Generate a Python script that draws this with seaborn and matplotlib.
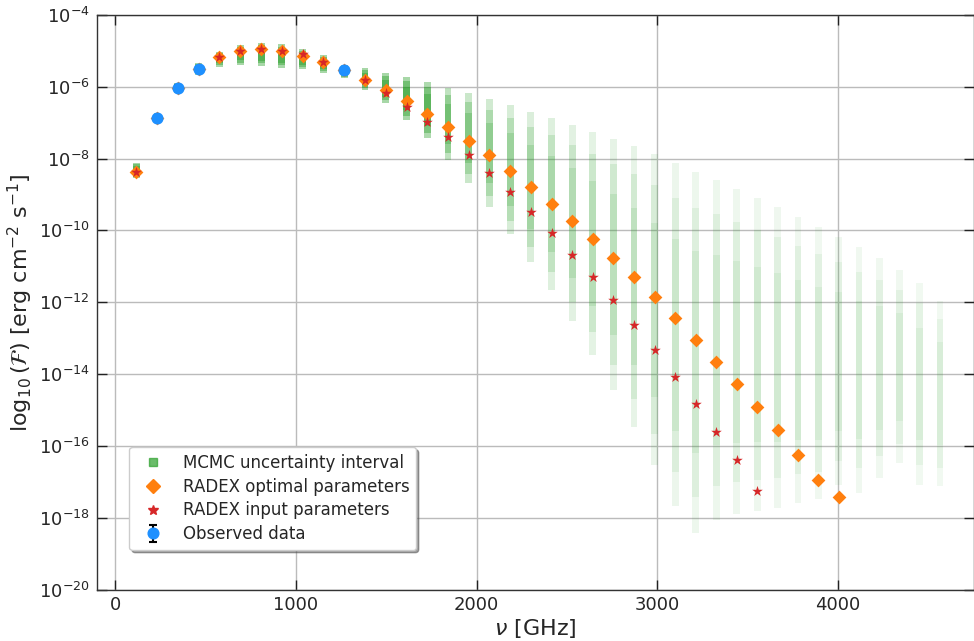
import numpy as np
import matplotlib
matplotlib.use("Agg")
import matplotlib.pyplot as plt
import seaborn as sns
from matplotlib.lines import Line2D
from matplotlib.ticker import NullLocator

# ---------------- data ----------------
# CO rotational transitions J=1..40, rest frequency in GHz
freq_ghz = [115.271, 230.538, 345.796, 461.041, 576.268, 691.473, 806.652, 921.800,
            1036.912, 1151.985, 1267.014, 1381.995, 1496.923, 1611.794, 1726.603,
            1841.346, 1956.018, 2070.616, 2185.135, 2299.570, 2413.917, 2528.172,
            2642.330, 2756.388, 2870.339, 2984.181, 3097.909, 3211.519, 3325.005,
            3438.365, 3551.594, 3664.687, 3777.640, 3890.449, 4003.110, 4115.619,
            4227.971, 4340.161, 4452.186, 4564.042]

# MCMC uncertainty interval, log10 flux (upper / lower end of each column)
mcmc_log_hi = [-8.12, -6.72, -5.89, -5.33, -5.02, -4.83, -4.77, -4.82, -4.95, -5.11,
               -5.39, -5.48, -5.61, -5.73, -5.86, -6.04, -6.18, -6.34, -6.50, -6.69,
               -6.86, -7.06, -7.25, -7.46, -7.66, -7.88, -8.13, -8.36, -8.59, -8.85,
               -9.11, -9.35, -9.63, -9.91, -10.19, -10.46, -10.77, -11.11, -11.47, -11.96]
mcmc_log_lo = [-8.54, -6.98, -6.17, -5.67, -5.44, -5.39, -5.41, -5.47, -5.51, -5.61,
               -5.76, -6.09, -6.46, -6.92, -7.43, -8.03, -8.67, -9.35, -10.10, -10.88,
               -11.65, -12.53, -13.46, -14.45, -15.47, -16.54, -17.68, -18.42, -18.05, -17.91,
               -17.82, -17.73, -17.59, -17.49, -17.10, -17.31, -16.89, -16.49, -17.08, -17.12]

# RADEX optimal parameters (J=1..35), log10 flux
radex_opt_log = [-8.36, -6.86, -6.02, -5.50, -5.16, -5.00, -4.955, -5.00, -5.13, -5.31,
                 -5.54, -5.81, -6.09, -6.39, -6.75, -7.12, -7.51, -7.91, -8.34, -8.79,
                 -9.25, -9.73, -10.24, -10.76, -11.30, -11.86, -12.44, -13.05, -13.65, -14.28,
                 -14.93, -15.57, -16.26, -16.96, -17.41]

# RADEX input parameters (J=1..31), log10 flux
radex_input_log = [-8.36, -6.86, -6.02, -5.50, -5.16, -5.00, -4.96, -5.00, -5.08, -5.30,
                   -5.54, -5.82, -6.18, -6.55, -6.98, -7.41, -7.90, -8.40, -8.93, -9.49,
                   -10.07, -10.68, -11.30, -11.95, -12.63, -13.34, -14.08, -14.83, -15.61, -16.39,
                   -17.27]

# Observed data
obs_freq_ghz = [230.538, 345.796, 461.041, 1267.014]
obs_flux = [1.38e-7, 9.55e-7, 3.16e-6, 2.88e-6]
obs_err = [2.0e-8, 1.4e-7, 4.7e-7, 4.3e-7]

x_ticks = [0, 1000, 2000, 3000, 4000]
y_tick_exponents = [-20, -18, -16, -14, -12, -10, -8, -6, -4]

# ---------------- style ----------------
sns.set_theme(style="whitegrid")
plt.rcParams['font.family'] = ['DejaVu Sans']
plt.rcParams['mathtext.fontset'] = 'dejavusans'

GREEN = '#2ca02c'
ORANGE = '#ff7f0e'
RED = '#d62728'
BLUE = '#1e90ff'

fig = plt.figure(figsize=(9.74, 6.41), dpi=100)
ax = fig.add_axes([0.0993, 0.0803, 0.9007, 0.8963])
ax.set_facecolor('white')
ax.set_yscale('log')

# MCMC uncertainty columns: nested translucent bars -> denser toward the centre
f_arr = np.array(freq_ghz)
lo_l = np.array(mcmc_log_lo)
hi_l = np.array(mcmc_log_hi)
span = hi_l - lo_l
centre_alpha = np.clip(1.0 / span ** 0.6, 0.1, 0.8) * np.interp(f_arr, [2900, 4600], [1.0, 0.45])
layer_alpha = 1 - (1 - centre_alpha) ** (1 / 3)
for f, l, h, s, b in zip(f_arr, lo_l, hi_l, span, layer_alpha):
    for frac in (0.0, 0.1, 0.22):
        il, ih = l + frac * s, h - frac * s
        ax.bar(f, 10 ** ih - 10 ** il, bottom=10 ** il, width=38, color=GREEN,
               alpha=b, linewidth=0, zorder=2)

# RADEX optimal
sns.scatterplot(x=freq_ghz[:len(radex_opt_log)], y=10 ** np.array(radex_opt_log),
                marker='D', s=49, color=ORANGE, linewidth=0, ax=ax, zorder=3)
# RADEX input
sns.scatterplot(x=freq_ghz[:len(radex_input_log)], y=10 ** np.array(radex_input_log),
                marker='*', s=64, color=RED, linewidth=0, ax=ax, zorder=4)
# Observed
obs = ax.errorbar(obs_freq_ghz, obs_flux, yerr=obs_err, fmt='o', ms=7.7, color=BLUE,
                  ecolor='black', elinewidth=1.5, capsize=3, capthick=1.5, zorder=5)

# axes
ax.set_xlim(-103, 4752)
ax.set_ylim(1e-20, 1e-4)
ax.set_xticks(x_ticks)
ax.set_yticks([10.0 ** k for k in y_tick_exponents])
ax.yaxis.set_minor_locator(NullLocator())
ax.grid(True, color='#bbbbbb', linewidth=1)
ax.set_axisbelow(True)
for sp in ax.spines.values():
    sp.set_color('#333333')
    sp.set_linewidth(1)
ax.tick_params(axis='both', which='major', direction='in', length=7, width=1,
               color='#222222', labelsize=13, top=True, right=True, bottom=True, left=True,
               pad=5)

ax.set_xlabel(r'$\nu$ [GHz]', fontsize=16, labelpad=2)
ax.set_ylabel(r'$\log_{10}(\mathcal{F})$ [erg cm$^{-2}$ s$^{-1}$]', fontsize=16, labelpad=3)

handles = [
    Line2D([], [], marker='s', ls='none', color=GREEN, alpha=0.7, markersize=6),
    Line2D([], [], marker='D', ls='none', color=ORANGE, markersize=7),
    Line2D([], [], marker='*', ls='none', color=RED, markersize=7),
    obs,
]
labels = ['MCMC uncertainty interval', 'RADEX optimal parameters',
          'RADEX input parameters', 'Observed data']
leg = ax.legend(handles, labels, loc='lower left', bbox_to_anchor=(0.037, 0.069),
                borderaxespad=0, fontsize=12, frameon=True, shadow=True, fancybox=True,
                framealpha=1, edgecolor='#cccccc', labelspacing=0.35)
leg.get_frame().set_facecolor('white')

fig.savefig('out.png', dpi=100)
